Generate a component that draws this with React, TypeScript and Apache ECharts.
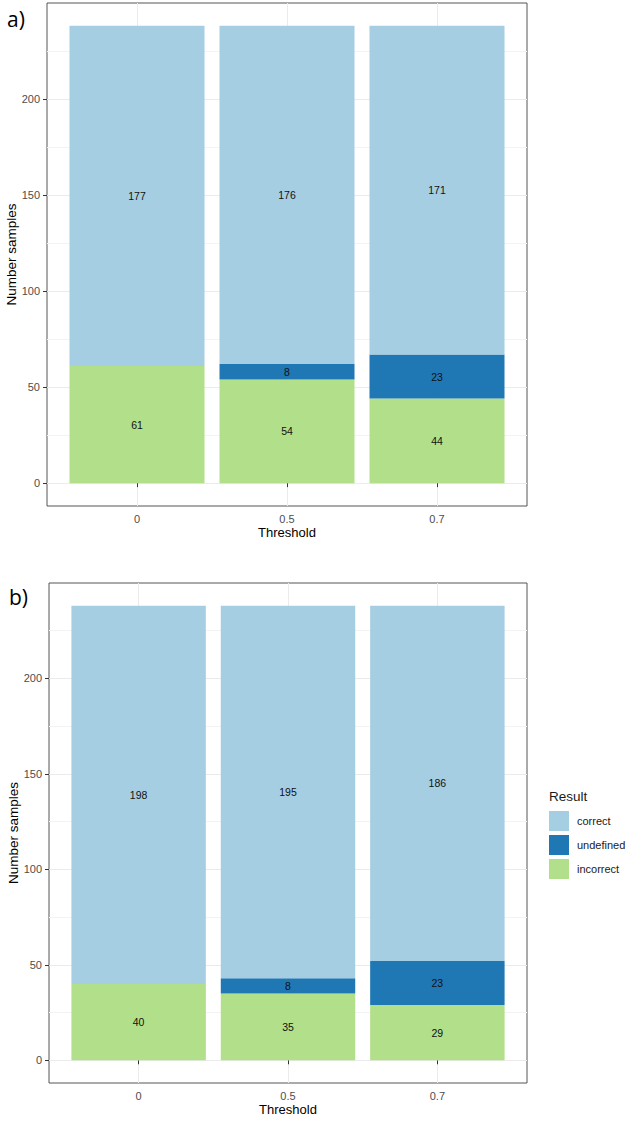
import React, { useEffect, useRef } from "react";
import * as echarts from "echarts";

const thresholds = ["0", "0.5", "0.7"];
const xPositions = [1, 2, 3];
const resultNames = ["correct", "undefined", "incorrect"];
const resultColors: Record<string, string> = {
  correct: "#a6cee3",
  undefined: "#1f78b4",
  incorrect: "#b2df8a",
};

const aCorrect = [177, 176, 171];
const aUndefined = [0, 8, 23];
const aIncorrect = [61, 54, 44];

const bCorrect = [198, 195, 186];
const bUndefined = [0, 8, 23];
const bIncorrect = [40, 35, 29];

const yTicks = [0, 50, 100, 150, 200];
const yMinorTicks = [25, 75, 125, 175, 225];

const Y_MIN = -11.9;
const Y_MAX = 249.9;
const X_MIN = 0.4;
const X_MAX = 3.6;

const FONT = "Liberation Sans, Arial, sans-serif";

function bgXAxis(gridIndex: number) {
  return {
    gridIndex,
    type: "value",
    min: X_MIN,
    max: X_MAX,
    name: "Threshold",
    nameLocation: "middle",
    nameGap: 20,
    nameMoveOverlap: false,
    nameTextStyle: { fontSize: 13, color: "#000", fontFamily: FONT },
    axisLine: { show: false },
    axisTick: { show: true, customValues: xPositions, length: 4, lineStyle: { color: "#333" } },
    axisLabel: {
      customValues: xPositions,
      margin: 7,
      fontSize: 11,
      color: "#4d4d4d",
      fontFamily: FONT,
      formatter: (v: number) => thresholds[xPositions.indexOf(Math.round(v))] ?? "",
    },
    splitLine: { show: true, lineStyle: { color: "#ebebeb", width: 1 } },
  };
}

function fgXAxis(gridIndex: number) {
  return {
    gridIndex,
    type: "category",
    data: thresholds,
    show: false,
    boundaryGap: true,
  };
}

function majorY(gridIndex: number) {
  return {
    gridIndex,
    type: "value",
    min: Y_MIN,
    max: Y_MAX,
    name: "Number samples",
    nameLocation: "middle",
    nameGap: 29,
    nameMoveOverlap: false,
    nameTextStyle: { fontSize: 13.5, color: "#000", fontFamily: FONT },
    axisLine: { show: false },
    axisTick: { show: true, customValues: yTicks, length: 4, lineStyle: { color: "#333" } },
    axisLabel: {
      customValues: yTicks,
      margin: 7,
      fontSize: 11,
      color: "#4d4d4d",
      fontFamily: FONT,
    },
    splitLine: { show: true, lineStyle: { color: "#ebebeb", width: 1 } },
  };
}

function minorY(gridIndex: number) {
  return {
    gridIndex,
    type: "value",
    min: Y_MIN,
    max: Y_MAX,
    position: "left",
    axisLine: { show: false },
    axisTick: { show: false, customValues: yMinorTicks },
    axisLabel: { show: false, customValues: yMinorTicks },
    splitLine: { show: true, lineStyle: { color: "#f3f3f3", width: 1 } },
  };
}

function fgY(gridIndex: number) {
  return {
    gridIndex,
    type: "value",
    min: Y_MIN,
    max: Y_MAX,
    show: false,
    splitLine: { show: false },
  };
}

function makeSeries(
  xAxisIndex: number,
  yAxisIndex: number,
  key: string,
  correct: number[],
  undef: number[],
  incorrect: number[]
) {
  const groups: [string, number[]][] = [
    ["incorrect", incorrect],
    ["undefined", undef],
    ["correct", correct],
  ];
  return groups.map(([name, vals]) => ({
    type: "bar",
    name,
    xAxisIndex,
    yAxisIndex,
    stack: key,
    barWidth: "90%",
    z: 3,
    itemStyle: { color: resultColors[name] },
    label: {
      show: true,
      position: "inside",
      fontSize: 10.5,
      color: "#111",
      fontFamily: FONT,
      formatter: (p: any) => (p.value === 0 ? "" : String(p.value)),
    },
    emphasis: { disabled: true },
    data: vals,
  }));
}

export default function App() {
  const ref = useRef<HTMLDivElement>(null);
  useEffect(() => {
    if (!ref.current) return;
    const chart = echarts.init(ref.current, undefined, { renderer: "svg" });
    const aLeft = 47, aWidth = 480, aTop = 3, aHeight = 503;
    const bLeft = 49, bWidth = 478, bTop = 583, bHeight = 500;
    const aUnit = aWidth / (X_MAX - X_MIN);
    const bUnit = bWidth / (X_MAX - X_MIN);
    const common = { outerBoundsMode: "none", containLabel: false };
    const option: any = {
      animation: false,
      backgroundColor: "#ffffff",
      textStyle: { fontFamily: FONT },
      grid: [
        { ...common, left: aLeft, top: aTop, width: aWidth, height: aHeight, show: true, borderColor: "#555", borderWidth: 1, backgroundColor: "#fff" },
        { ...common, left: aLeft + 0.1 * aUnit, top: aTop, width: 3 * aUnit, height: aHeight, show: false },
        { ...common, left: bLeft, top: bTop, width: bWidth, height: bHeight, show: true, borderColor: "#555", borderWidth: 1, backgroundColor: "#fff" },
        { ...common, left: bLeft + 0.1 * bUnit, top: bTop, width: 3 * bUnit, height: bHeight, show: false },
      ],
      xAxis: [bgXAxis(0), fgXAxis(1), bgXAxis(2), fgXAxis(3)],
      yAxis: [majorY(0), minorY(0), fgY(1), majorY(2), minorY(2), fgY(3)],
      legend: {
        data: resultNames,
        orient: "vertical",
        left: 549,
        top: 811,
        itemWidth: 20,
        itemHeight: 20,
        itemGap: 4,
        icon: "rect",
        padding: 0,
        selectedMode: false,
        textStyle: { fontSize: 11, color: "#1a1a1a", fontFamily: FONT, padding: [0, 0, 0, 3] },
      },
      graphic: [
        { type: "text", left: 7, top: 8, style: { text: "a)", fontSize: 21, fill: "#000", fontFamily: "Open Sans, sans-serif" } },
        { type: "text", left: 9, top: 586, style: { text: "b)", fontSize: 21, fill: "#000", fontFamily: "Open Sans, sans-serif" } },
        { type: "text", left: 549, top: 789, style: { text: "Result", fontSize: 13.5, fill: "#1a1a1a", fontFamily: FONT } },
      ],
      series: [
        ...makeSeries(1, 2, "a", aCorrect, aUndefined, aIncorrect),
        ...makeSeries(3, 5, "b", bCorrect, bUndefined, bIncorrect),
      ],
    };
    chart.setOption(option);
    return () => chart.dispose();
  }, []);
  return (
    <div ref={ref} style={{ position: "absolute", left: 0, top: 0, width: 629, height: 1121 }} />
  );
}
